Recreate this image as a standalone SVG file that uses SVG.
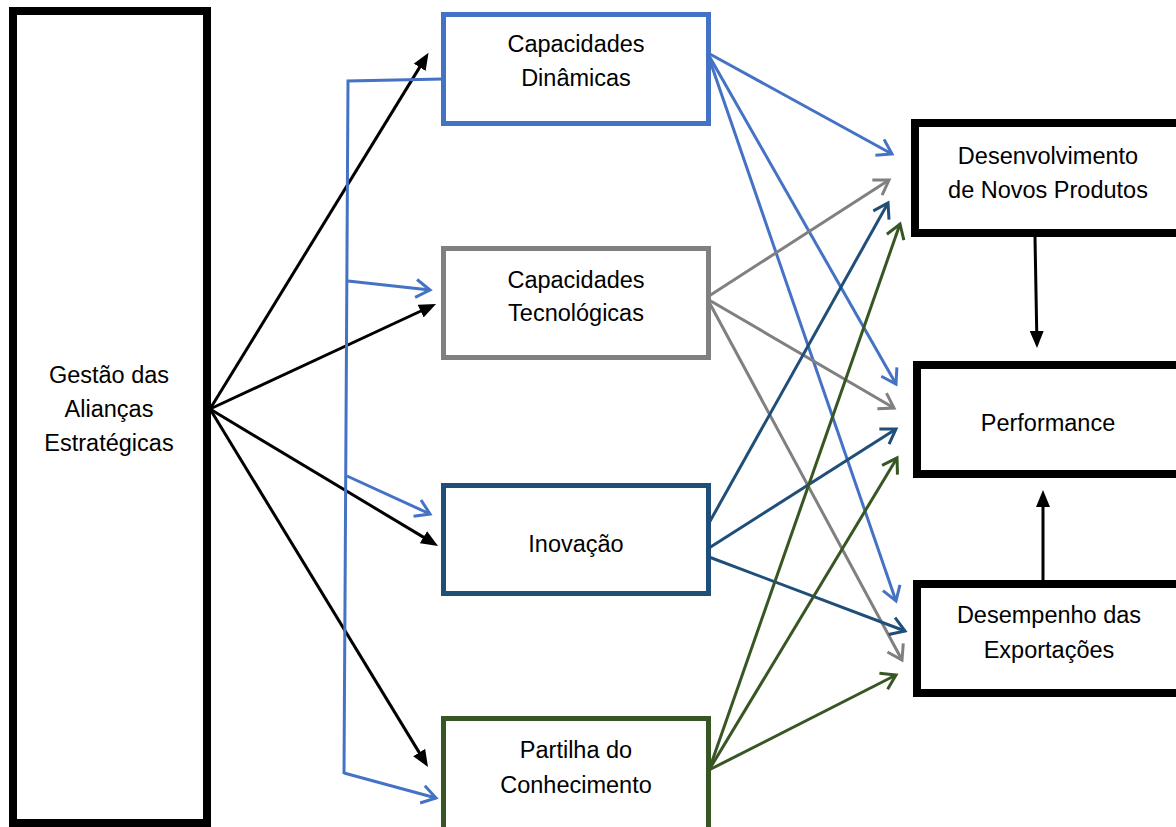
<svg xmlns="http://www.w3.org/2000/svg" width="1176" height="827" viewBox="0 0 1176 827">
<style>
.box{fill:#fff}
.t{font-family:"Liberation Sans",Arial,sans-serif;font-size:23.5px;fill:#000;text-anchor:middle}
.c{fill:none;stroke-width:3}
</style>
<defs>
<marker id="ab" markerUnits="userSpaceOnUse" markerWidth="18" markerHeight="14" viewBox="0 0 18 14" refX="11" refY="7" orient="auto"><path d="M0,0 L17,7 L0,14 Z" fill="#000"/></marker>
<marker id="ob" markerUnits="userSpaceOnUse" markerWidth="24" markerHeight="24" viewBox="0 0 24 24" refX="20" refY="12" orient="auto"><path d="M6,3 L20,12 L6,21" fill="none" stroke="#4472C4" stroke-width="3"/></marker>
<marker id="og" markerUnits="userSpaceOnUse" markerWidth="24" markerHeight="24" viewBox="0 0 24 24" refX="20" refY="12" orient="auto"><path d="M6,3 L20,12 L6,21" fill="none" stroke="#808080" stroke-width="3"/></marker>
<marker id="od" markerUnits="userSpaceOnUse" markerWidth="24" markerHeight="24" viewBox="0 0 24 24" refX="20" refY="12" orient="auto"><path d="M6,3 L20,12 L6,21" fill="none" stroke="#1F4E79" stroke-width="3"/></marker>
<marker id="ov" markerUnits="userSpaceOnUse" markerWidth="24" markerHeight="24" viewBox="0 0 24 24" refX="20" refY="12" orient="auto"><path d="M6,3 L20,12 L6,21" fill="none" stroke="#375623" stroke-width="3"/></marker>
</defs>
<rect width="1176" height="827" fill="#fff"/>

<g id="gestao">
<rect class="box" x="13" y="11" width="194" height="812" stroke="#000" stroke-width="8"/>
<text class="t" x="109" y="383">Gestão das</text>
<text class="t" x="109" y="417">Alianças</text>
<text class="t" x="109" y="451">Estratégicas</text>
</g>

<g id="dinamicas">
<rect class="box" x="443.5" y="14.5" width="265" height="109" stroke="#4472C4" stroke-width="5"/>
<text class="t" x="576" y="52">Capacidades</text>
<text class="t" x="576" y="86">Dinâmicas</text>
</g>

<g id="tecnologicas">
<rect class="box" x="443.5" y="248.5" width="265" height="109" stroke="#808080" stroke-width="5"/>
<text class="t" x="576" y="288">Capacidades</text>
<text class="t" x="576" y="321">Tecnológicas</text>
</g>

<g id="inovacao">
<rect class="box" x="443.5" y="485.5" width="265" height="108" stroke="#1F4E79" stroke-width="5"/>
<text class="t" x="576" y="552">Inovação</text>
</g>

<g id="partilha">
<rect class="box" x="443.5" y="718.5" width="265" height="125" stroke="#375623" stroke-width="5"/>
<text class="t" x="576" y="758">Partilha do</text>
<text class="t" x="576" y="793">Conhecimento</text>
</g>

<g id="desenvolvimento">
<rect class="box" x="915" y="123" width="270" height="110" stroke="#000" stroke-width="8"/>
<text class="t" x="1048" y="164">Desenvolvimento</text>
<text class="t" x="1048" y="198">de Novos Produtos</text>
</g>

<g id="performance">
<rect class="box" x="917" y="365" width="270" height="109" stroke="#000" stroke-width="8"/>
<text class="t" x="1048" y="431">Performance</text>
</g>

<g id="exportacoes">
<rect class="box" x="917" y="584" width="270" height="109" stroke="#000" stroke-width="8"/>
<text class="t" x="1049" y="623">Desempenho das</text>
<text class="t" x="1049" y="658">Exportações</text>
</g>

<g id="connectors">
<!-- black from Gestão -->
<g stroke="#000" stroke-width="3" fill="none" marker-end="url(#ab)">
<line x1="210" y1="409" x2="425.4" y2="57.9"/>
<line x1="210" y1="409" x2="430.6" y2="306.5"/>
<line x1="210" y1="409" x2="432.9" y2="542.9"/>
<line x1="210" y1="409" x2="424.9" y2="761.9"/>
<line x1="1035" y1="237" x2="1036.9" y2="342"/>
<line x1="1043" y1="580" x2="1043" y2="496"/>
</g>
<!-- blue feedback line -->
<polyline class="c" stroke="#4472C4" points="443,79 348,81 344,774"/>
<g class="c" stroke="#4472C4" marker-end="url(#ob)">
<line x1="348" y1="281" x2="430" y2="290"/>
<line x1="347" y1="476" x2="430" y2="514"/>
<line x1="344" y1="773" x2="436" y2="798"/>
</g>
<!-- from Dinâmicas -->
<g class="c" stroke="#4472C4" marker-end="url(#ob)">
<line x1="708" y1="53" x2="892" y2="154"/>
<line x1="708" y1="54" x2="896" y2="384"/>
<line x1="708" y1="55" x2="896" y2="601"/>
</g>
<!-- from Tecnológicas -->
<g class="c" stroke="#808080" marker-end="url(#og)">
<line x1="709" y1="296" x2="889" y2="180"/>
<line x1="709" y1="300" x2="894" y2="408"/>
<line x1="709" y1="302" x2="902" y2="660"/>
</g>
<!-- from Inovação -->
<g class="c" stroke="#1F4E79" marker-end="url(#od)">
<line x1="709" y1="523" x2="888" y2="203"/>
<line x1="709" y1="548" x2="896" y2="429"/>
<line x1="709" y1="557" x2="905" y2="631"/>
</g>
<!-- from Partilha -->
<g class="c" stroke="#375623" marker-end="url(#ov)">
<line x1="709" y1="770" x2="900" y2="224"/>
<line x1="709" y1="770" x2="897" y2="458"/>
<line x1="709" y1="770" x2="896" y2="675"/>
</g>
</g>
</svg>
